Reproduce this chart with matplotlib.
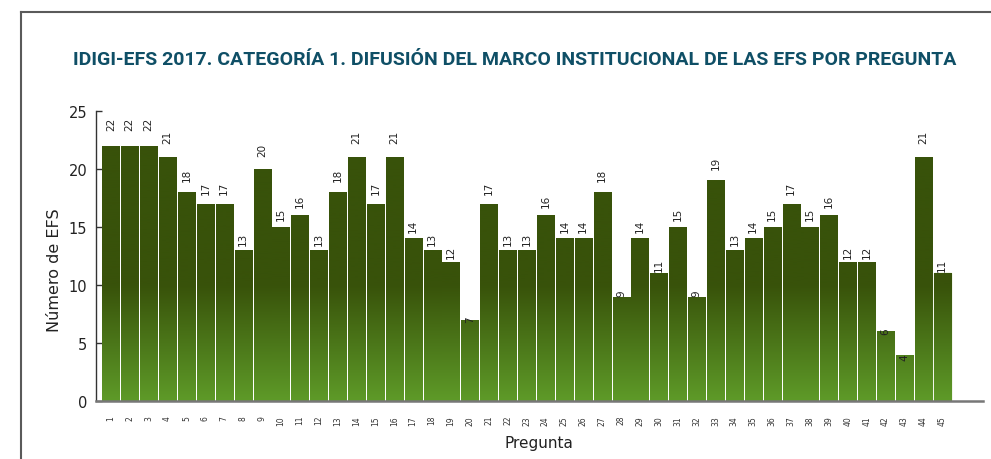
import numpy as np
import matplotlib.pyplot as plt
from matplotlib.lines import Line2D
from matplotlib.colors import LinearSegmentedColormap

# Data: number of EFS per question (Categoría 1)
preguntas = [str(i) for i in range(1, 46)]
valores = [22, 22, 22, 21, 18, 17, 17, 13, 20, 15, 16, 13, 18, 21, 17, 21, 14, 13, 12, 7,
           17, 13, 13, 16, 14, 14, 18, 9, 14, 11, 15, 9, 19, 13, 14, 15, 17, 15, 16, 12,
           12, 6, 4, 21, 11]
y_ticks = [0, 5, 10, 15, 20, 25]

titulo = "IDIGI-EFS 2017. CATEGORÍA 1. DIFUSIÓN DEL MARCO INSTITUCIONAL DE LAS EFS POR PREGUNTA"

verde_oscuro = "#38520a"
verde_claro = "#5e9a28"

fig = plt.figure(figsize=(9.91, 4.60), dpi=100)
ax = fig.add_axes([0.0966, 0.126, 0.8954, 0.631])

x = np.arange(len(valores))
bars = ax.bar(x, valores, width=0.9, color=verde_oscuro, zorder=2)

# gradient fill: light at the bottom, dark from ~10 upwards (same for every bar)
cmap = LinearSegmentedColormap.from_list("verdes", [verde_claro, verde_oscuro])
grad = np.clip(np.linspace(0, 25, 300) / 10.0, 0, 1).reshape(-1, 1)
for b in bars:
    b.set_facecolor("none")
    b.set_edgecolor("none")
    im = ax.imshow(grad, cmap=cmap, vmin=0, vmax=1, origin="lower", aspect="auto",
                   extent=[-0.8, 46.16, 0, 25], zorder=2)
    im.set_clip_path(b)
ax.set_xlim(-0.8, 46.16)
ax.set_ylim(0, 25)
bars[-1].set_edgecolor("#b5cf98")
bars[-1].set_linewidth(1.0)

# value labels (the source places them on a slightly stretched scale)
for xi, v in zip(x, valores):
    ax.text(xi, v * 1.097 - 0.83, str(v), rotation=90, ha="center", va="bottom",
            fontsize=7.5, color="#222222", zorder=4, clip_on=False)

ax.set_xticks(x)
ax.set_xticklabels(preguntas, rotation=90, fontsize=5.5, color="#333333")
ax.tick_params(axis="x", length=0, pad=10)
ax.set_yticks(y_ticks)
ax.tick_params(axis="y", direction="in", length=4, width=1, labelsize=10.5,
               labelcolor="#222222", color="#333333", pad=6)

for s in ["top", "right"]:
    ax.spines[s].set_visible(False)
ax.spines["left"].set_color("#333333")
ax.spines["left"].set_linewidth(1.0)
ax.spines["bottom"].set_color("#777777")
ax.spines["bottom"].set_linewidth(1.8)
ax.spines["bottom"].set_zorder(5)

ax.set_ylabel("Número de EFS", fontsize=11.5, color="#222222")
ax.yaxis.set_label_coords(-0.038, 0.455)
ax.set_xlabel("Pregunta", fontsize=11, color="#222222")
ax.xaxis.set_label_coords(0.5, -0.118)

fig.text(515 / 991, 1 - 60 / 460, titulo, ha="center", va="center",
         fontsize=14, fontweight="bold", color="#0f4f66", family="Roboto")

# outer frame (top and left edges)
frame_x, frame_y = 21 / 991, 1 - 12.7 / 460
fig.add_artist(Line2D([frame_x, 1.0], [frame_y, frame_y], color="#5a5a5a", lw=1.5))
fig.add_artist(Line2D([frame_x, frame_x], [0, frame_y], color="#5a5a5a", lw=1.5))

plt.savefig("out.png", dpi=100)
